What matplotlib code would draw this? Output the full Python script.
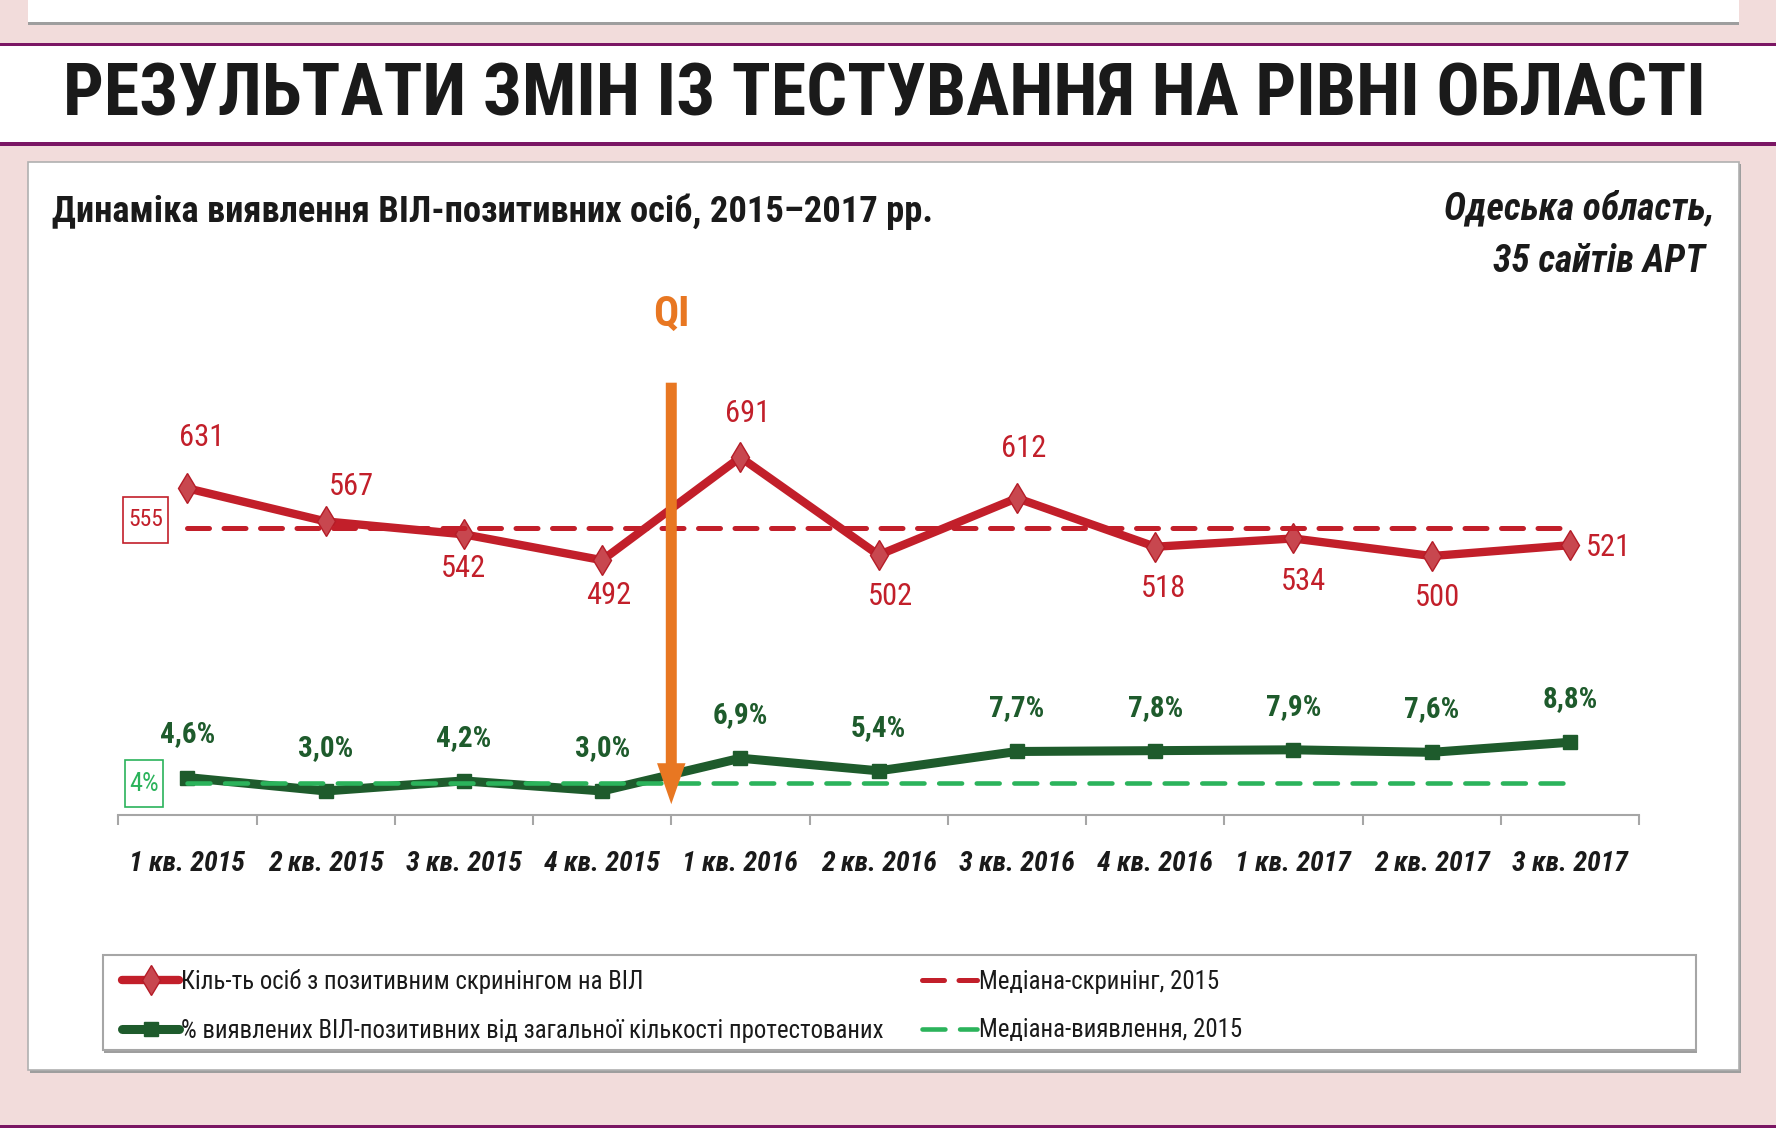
import matplotlib
matplotlib.use('Agg')
import matplotlib.pyplot as plt
import matplotlib.transforms as mtransforms
from matplotlib import font_manager as fm
from matplotlib.patches import Rectangle

W, H = 1776, 1128

# дані
quarters = ['1 кв. 2015', '2 кв. 2015', '3 кв. 2015', '4 кв. 2015',
            '1 кв. 2016', '2 кв. 2016', '3 кв. 2016', '4 кв. 2016',
            '1 кв. 2017', '2 кв. 2017', '3 кв. 2017']
positives = [631, 567, 542, 492, 691, 502, 612, 518, 534, 500, 521]
detection_pct = [4.6, 3.0, 4.2, 3.0, 6.9, 5.4, 7.7, 7.8, 7.9, 7.6, 8.8]
median_positives = 555
median_pct = 4
qi_position = 3.5   # між 4 кв. 2015 і 1 кв. 2016

title = 'РЕЗУЛЬТАТИ ЗМІН ІЗ ТЕСТУВАННЯ НА РІВНІ ОБЛАСТІ'
subtitle = 'Динаміка виявлення ВІЛ-позитивних осіб, 2015–2017 рр.'
region = ['Одеська область,', '35 сайтів АРТ']
legend_labels = ['Кіль-ть осіб з позитивним скринінгом на ВІЛ',
                 '% виявлених ВІЛ-позитивних від загальної кількості протестованих',
                 'Медіана-скринінг, 2015',
                 'Медіана-виявлення, 2015']

# кольори
PINK = '#F2DCDB'
PURPLE = '#7B1664'
RED = '#C21F2A'
RED_MARK = '#C8474F'
GREEN = '#1E5B2C'
LGREEN = '#2BB35B'
ORANGE = '#E87722'
GRAY = '#A6A6A6'
INK = '#1A1A1A'

# вузький шрифт, якщо такий є
fonts = fm.fontManager.ttflist
names = {f.name for f in fonts}
FAMILY, STRETCH = 'DejaVu Sans', 'normal'
for cand in ['Liberation Sans Narrow', 'Roboto Condensed', 'Noto Sans Condensed',
             'Noto Sans SemiCondensed', 'Open Sans Condensed', 'DejaVu Sans Condensed']:
    if cand in names:
        FAMILY = cand
        break
else:
    for fam in ['Noto Sans', 'Roboto', 'Open Sans', 'DejaVu Sans']:
        if any(f.name == fam and f.stretch == 'condensed' for f in fonts):
            FAMILY, STRETCH = fam, 'condensed'
            break
plt.rcParams['font.family'] = [FAMILY, 'DejaVu Sans']
plt.rcParams['font.stretch'] = STRETCH

fig = plt.figure(figsize=(W / 100, H / 100), dpi=100)
fig.patch.set_facecolor(PINK)
renderer = fig.canvas.get_renderer()


def fit_size(s, target_w, max_size, **kw):
    # розмір шрифту, щоб текст мав потрібну ширину (у пікселях)
    t = fig.text(0, 0, s, fontsize=20, **kw)
    w = t.get_window_extent(renderer).width
    t.remove()
    return min(max_size, 20 * target_w / w)


def px_rect(x0, y0, x1, y1, **kw):
    # прямокутник у пікселях, відлік зверху
    r = Rectangle((x0 / W, 1 - y1 / H), (x1 - x0) / W, (y1 - y0) / H,
                  transform=fig.transFigure, zorder=kw.pop('zorder', -5), **kw)
    fig.add_artist(r)


# фон сторінки
px_rect(28, 0, 1739, 25, facecolor='#9E9E9E', edgecolor='none')
px_rect(28, 0, 1739, 22, facecolor='white', edgecolor='none')
px_rect(0, 43, W, 146, facecolor=PURPLE, edgecolor='none')
px_rect(0, 46, W, 142, facecolor='white', edgecolor='none')
px_rect(30, 164, 1741, 1073, facecolor='#9E9E9E', edgecolor='none')
px_rect(28, 162, 1739, 1070, facecolor='white', edgecolor='#B0B0B0', linewidth=1.2)
px_rect(0, 1125, W, 1128, facecolor=PURPLE, edgecolor='none')
px_rect(104, 957, 1697, 1053, facecolor='#9E9E9E', edgecolor='none', zorder=-4)
px_rect(103, 955, 1696, 1050, facecolor='white', edgecolor=GRAY, linewidth=1.5, zorder=-3)

bold = dict(fontweight='bold')
bi = dict(fontweight='bold', fontstyle='italic')
fig.text(884 / W, 1 - 96 / H, title, ha='center', va='center',
         fontsize=fit_size(title, 1640, 54, **bold), color=INK, **bold)
fig.text(52 / W, 1 - 212 / H, subtitle, ha='left', va='center',
         fontsize=fit_size(subtitle, 879, 29, **bold), color=INK, **bold)
reg_size = fit_size(region[0], 272, 27, **bi)
fig.text(1714 / W, 1 - 209 / H, region[0], ha='right', va='center', fontsize=reg_size,
         color=INK, **bi)
fig.text(1705 / W, 1 - 262 / H, region[1], ha='right', va='center', fontsize=reg_size,
         color=INK, **bi)

# осі
x0, x1, ytop, ybot = 118.3, 1639.0, 382.7, 815.0
ax = fig.add_axes([x0 / W, 1 - ybot / H, (x1 - x0) / W, (ybot - ytop) / H])
ax.set_facecolor('none')
ax2 = ax.twinx()
ax.set_xlim(-0.5, len(quarters) - 0.5)
ax.set_ylim(-0.9, 835.3)
ax2.set_ylim(0.14, 51.6)

xs = list(range(len(quarters)))

l_red, = ax.plot(xs, positives, color=RED, lw=6, marker='d', ms=15,
                 mfc=RED_MARK, mec='#B51C27', mew=1, zorder=3,
                 solid_capstyle='round', solid_joinstyle='round')
l_med_red, = ax.plot([xs[0], xs[-1]], [median_positives] * 2, color=RED, lw=3.6,
                     dashes=(4.4, 2.9), dash_capstyle='round', zorder=4)

l_green, = ax2.plot(xs, detection_pct, color=GREEN, lw=6.5, marker='s', ms=10,
                    mfc=GREEN, mec=GREEN, zorder=3,
                    solid_capstyle='round', solid_joinstyle='round')
l_med_green, = ax2.plot([xs[0], xs[-1]], [median_pct] * 2, color=LGREEN, lw=3.3,
                        dashes=(5.0, 3.2), dash_capstyle='round', zorder=4)

# підписи значень
red_size = min(22, fit_size('631', 37, 22) * 1.3)
green_size = min(21, fit_size('4,6%', 50, 21, **bold) * 1.2)
red_offsets = [(10.6, 36.7), (18.8, 25.3), (0, -24.5), (4.9, -25.3), (4.9, 31.8),
               (8.2, -30.2), (4.9, 35.9), (5.7, -30.2), (7.3, -31), (4.1, -30.2),
               (27.7, -1.6)]
for xi, v, off in zip(xs, positives, red_offsets):
    ax.annotate(str(v), (xi, v), xytext=off, textcoords='offset points',
                ha='center', va='center', fontsize=red_size, color=RED)
for xi, v in zip(xs, detection_pct):
    ax2.annotate(f'{v:.1f}%'.replace('.', ','), (xi, v), xytext=(0, 31),
                 textcoords='offset points', ha='center', va='center',
                 fontsize=green_size, color=GREEN, **bold)


def median_tag(a, x, y, label, color, w, h, dy, size):
    # підпис медіани в рамці; w, h, dy - у пікселях
    a.annotate(label, (x, y), xytext=(0, dy * 0.72), textcoords='offset points',
               ha='center', va='center', fontsize=size, color=color, zorder=6)
    frame = Rectangle((-w / 2, dy - h / 2), w, h, fc='white', ec=color, lw=1.2, zorder=5,
                      transform=mtransforms.ScaledTranslation(x, y, a.transData))
    a.add_artist(frame)


median_tag(ax, -0.3, median_positives, str(median_positives), RED, 45, 46, 8,
           fit_size('555', 35, 18))
median_tag(ax2, -0.315, median_pct, f'{median_pct}%', LGREEN, 38, 47, -1,
           fit_size('4%', 30, 19))

# стрілка QI
blend = mtransforms.blended_transform_factory(ax2.transData, ax2.transAxes)
ax2.annotate('', xy=(qi_position, 0.025), xytext=(qi_position, 1.0),
             xycoords=blend, textcoords=blend, zorder=6,
             arrowprops=dict(width=7.9, headwidth=20.5, headlength=29.5,
                             facecolor=ORANGE, edgecolor='none', shrink=0))
ax2.text(qi_position, 1.157, 'QI', transform=blend, ha='center', va='center',
         fontsize=30, color=ORANGE, **bold)

# вісь X
tick_size = fit_size(quarters[0], 116, 23, **bi)
ax.set_xticks(xs)
ax.set_xticklabels(quarters, fontsize=tick_size, color=INK, va='center', **bi)
ax.set_xticks([x - 0.5 for x in xs] + [xs[-1] + 0.5], minor=True)
ax.tick_params(axis='x', which='major', length=0,
               pad=(51 - 0.1 * tick_size * 100 / 72) * 0.72)
ax.tick_params(axis='x', which='minor', length=7, width=1.5, color=GRAY)
ax.tick_params(axis='y', left=False, labelleft=False)
ax2.tick_params(axis='y', right=False, labelright=False)
for a in (ax, ax2):
    for s in ('top', 'left', 'right'):
        a.spines[s].set_visible(False)
ax2.spines['bottom'].set_visible(False)
ax.spines['bottom'].set_color(GRAY)
ax.spines['bottom'].set_linewidth(1.5)

# легенда
leg_size = fit_size(legend_labels[0], 462, 21)
em = leg_size * 100 / 72
common = dict(loc='center left', bbox_transform=fig.transFigure, frameon=False,
              fontsize=leg_size, labelspacing=max(0.2, (54 - 1.17 * em) / em),
              borderpad=0, borderaxespad=0, numpoints=1, handletextpad=0.1,
              labelcolor=INK)
leg1 = ax2.legend([l_red, l_green], legend_labels[:2],
                  bbox_to_anchor=(122 / W, 1 - 1006 / H), handlelength=57 / em, **common)
ax2.add_artist(leg1)
ax2.legend([l_med_red, l_med_green], legend_labels[2:],
           bbox_to_anchor=(922 / W, 1 - 1006 / H), handlelength=55 / em, **common)

fig.savefig('out.png', dpi=100, facecolor=fig.get_facecolor())
